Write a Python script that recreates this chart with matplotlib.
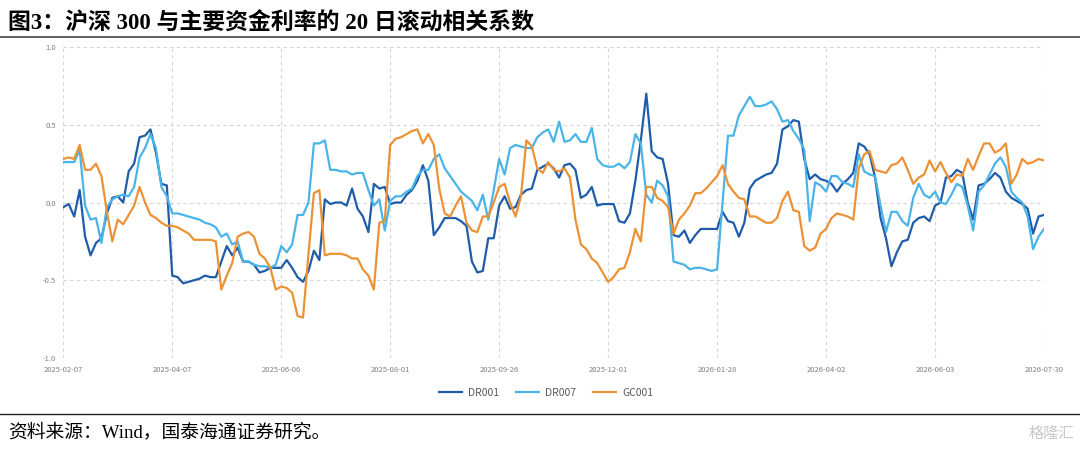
import numpy as np
import matplotlib.pyplot as plt
from matplotlib.lines import Line2D

plt.rcParams['font.family'] = ['Noto Sans CJK SC', 'DejaVu Sans']
plt.rcParams['axes.unicode_minus'] = False

# 交易日序号（每 2 个交易日取一个点），刻度每 40 个交易日
tick_labels = ['2025-02-07', '2025-04-07', '2025-06-06', '2025-08-01', '2025-09-26',
               '2025-12-01', '2026-01-28', '2026-04-02', '2026-06-03', '2026-07-30']
tick_pos = [0, 40, 80, 120, 160, 200, 240, 280, 320, 360]
days = np.arange(0, 361, 2)

dr001 = [-0.03, -0.01, -0.09, 0.08, -0.22, -0.34, -0.26, -0.23, -0.07, 0.03,
         0.04, 0.00, 0.20, 0.25, 0.42, 0.43, 0.47, 0.32, 0.12, 0.11,
         -0.47, -0.48, -0.52, -0.51, -0.50, -0.49, -0.47, -0.48, -0.48, -0.38,
         -0.28, -0.34, -0.29, -0.38, -0.38, -0.40, -0.45, -0.44, -0.42, -0.42,
         -0.42, -0.37, -0.42, -0.48, -0.51, -0.44, -0.31, -0.37, 0.02, -0.01,
         0.00, 0.00, -0.02, 0.09, -0.04, -0.09, -0.19, 0.12, 0.09, 0.10,
         -0.01, 0.00, 0.00, 0.05, 0.08, 0.14, 0.24, 0.14, -0.21, -0.16,
         -0.10, -0.10, -0.10, -0.12, -0.15, -0.38, -0.45, -0.44, -0.23, -0.23,
         -0.02, 0.04, -0.04, -0.03, 0.05, 0.08, 0.09, 0.21, 0.23, 0.25,
         0.22, 0.16, 0.24, 0.25, 0.21, 0.03, 0.05, 0.10, -0.02, -0.01,
         -0.01, -0.01, -0.12, -0.13, -0.07, 0.14, 0.40, 0.70, 0.33, 0.29,
         0.28, 0.12, -0.21, -0.22, -0.18, -0.26, -0.21, -0.17, -0.17, -0.17,
         -0.17, -0.06, -0.12, -0.13, -0.22, -0.13, 0.09, 0.14, 0.16, 0.18,
         0.19, 0.25, 0.47, 0.49, 0.53, 0.52, 0.28, 0.15, 0.18, 0.15,
         0.14, 0.12, 0.07, 0.12, 0.15, 0.19, 0.38, 0.36, 0.31, 0.16,
         -0.10, -0.23, -0.41, -0.32, -0.25, -0.24, -0.13, -0.10, -0.09, -0.12,
         -0.02, 0.00, 0.16, 0.17, 0.21, 0.19, 0.00, -0.11, 0.11, 0.12,
         0.15, 0.19, 0.16, 0.07, 0.03, 0.01, -0.01, -0.04, -0.20, -0.09, -0.08]

dr007 = [0.26, 0.26, 0.26, 0.34, -0.02, -0.11, -0.10, -0.26, -0.03, 0.02,
         0.04, 0.05, 0.04, 0.10, 0.29, 0.35, 0.44, 0.35, 0.10, 0.04,
         -0.07, -0.07, -0.08, -0.09, -0.10, -0.11, -0.13, -0.14, -0.16, -0.22,
         -0.20, -0.27, -0.25, -0.38, -0.38, -0.40, -0.41, -0.41, -0.42, -0.40,
         -0.28, -0.32, -0.27, -0.08, -0.08, 0.00, 0.38, 0.38, 0.40, 0.21,
         0.21, 0.20, 0.20, 0.18, 0.19, 0.19, 0.08, -0.02, 0.02, -0.18,
         0.01, 0.04, 0.04, 0.07, 0.09, 0.17, 0.21, 0.21, 0.28, 0.31,
         0.22, 0.17, 0.12, 0.07, 0.04, 0.01, -0.05, 0.05, -0.11, 0.08,
         0.28, 0.18, 0.35, 0.37, 0.36, 0.35, 0.35, 0.42, 0.45, 0.47,
         0.39, 0.52, 0.39, 0.40, 0.44, 0.39, 0.39, 0.48, 0.28, 0.24,
         0.23, 0.23, 0.25, 0.22, 0.26, 0.44, 0.38, 0.05, 0.00, 0.14,
         0.11, 0.04, -0.38, -0.39, -0.40, -0.43, -0.42, -0.42, -0.43, -0.44,
         -0.43, 0.00, 0.43, 0.43, 0.56, 0.62, 0.68, 0.62, 0.62, 0.63,
         0.65, 0.60, 0.52, 0.53, 0.46, 0.41, 0.34, -0.12, 0.13, 0.11,
         0.07, 0.17, 0.17, 0.13, 0.12, 0.10, 0.31, 0.20, 0.18, 0.17,
         -0.02, -0.19, -0.06, -0.06, -0.12, -0.15, 0.03, 0.12, 0.05, 0.03,
         0.07, 0.00, -0.01, 0.05, 0.12, 0.10, -0.02, -0.18, 0.07, 0.11,
         0.18, 0.25, 0.29, 0.23, 0.07, 0.03, 0.00, -0.09, -0.30, -0.22, -0.17]

gc001 = [0.28, 0.29, 0.28, 0.37, 0.21, 0.21, 0.25, 0.17, -0.06, -0.25,
         -0.11, -0.14, -0.08, -0.02, 0.10, 0.00, -0.08, -0.10, -0.13, -0.15,
         -0.15, -0.16, -0.18, -0.20, -0.24, -0.24, -0.24, -0.24, -0.25, -0.56,
         -0.47, -0.39, -0.22, -0.20, -0.19, -0.22, -0.33, -0.36, -0.42, -0.56,
         -0.54, -0.55, -0.58, -0.73, -0.74, -0.33, 0.06, 0.08, -0.34, -0.33,
         -0.33, -0.33, -0.34, -0.36, -0.36, -0.43, -0.47, -0.56, -0.13, -0.12,
         0.37, 0.41, 0.42, 0.44, 0.46, 0.47, 0.38, 0.44, 0.37, 0.09,
         -0.07, -0.09, -0.02, 0.04, -0.13, -0.18, -0.19, -0.09, -0.09, 0.00,
         0.10, 0.12, 0.00, -0.09, 0.04, 0.40, 0.36, 0.22, 0.19, 0.26,
         0.21, 0.20, 0.22, 0.16, -0.11, -0.27, -0.30, -0.36, -0.39, -0.45,
         -0.51, -0.48, -0.43, -0.42, -0.32, -0.17, -0.25, 0.10, 0.10, 0.03,
         0.01, -0.03, -0.20, -0.11, -0.07, -0.02, 0.06, 0.06, 0.09, 0.13,
         0.17, 0.24, 0.12, 0.07, 0.03, 0.02, -0.09, -0.09, -0.11, -0.13,
         -0.13, -0.10, 0.01, 0.07, -0.05, -0.06, -0.28, -0.31, -0.29, -0.20,
         -0.17, -0.10, -0.07, -0.08, -0.09, -0.11, 0.22, 0.31, 0.33, 0.21,
         0.20, 0.19, 0.24, 0.25, 0.29, 0.21, 0.12, 0.16, 0.18, 0.27,
         0.20, 0.26, 0.19, 0.13, 0.18, 0.17, 0.28, 0.21, 0.30, 0.38,
         0.38, 0.32, 0.34, 0.38, 0.12, 0.18, 0.28, 0.25, 0.26, 0.28, 0.27]

W, H = 1080, 449
fig = plt.figure(figsize=(W / 100, H / 100), dpi=100)
ax = fig.add_axes([63.3 / W, 1 - 358 / H, (1044 - 63.3) / W, (358 - 47) / H])

ax.plot(days, dr001, color='#1f5ca9', lw=1.6, label='DR001')
ax.plot(days, dr007, color='#4ab4e8', lw=1.6, label='DR007')
ax.plot(days, gc001, color='#ec9236', lw=1.6, label='GC001')

ax.set_xlim(0, 360)
ax.set_ylim(-1, 1)
ax.set_xticks(tick_pos)
ax.set_xticklabels(tick_labels)
ax.set_yticks([-1, -0.5, 0, 0.5, 1])
ax.set_yticklabels(['-1.0', '-0.5', '0.0', '0.5', '1.0'])
ax.tick_params(length=0, labelsize=5.5, labelcolor='#808080')
ax.tick_params(axis='y', pad=5)
ax.tick_params(axis='x', pad=6)
ax.grid(True, linestyle=(0, (3, 3)), color='#d4d4d4', lw=0.8)
for s in ax.spines.values():
    s.set_visible(False)

fig.legend(loc='center', bbox_to_anchor=(546 / W, 1 - 393 / H), ncol=3, frameon=False,
           fontsize=7.5, handlelength=2.2, handletextpad=0.6, columnspacing=1.6,
           labelcolor='#595959')

serif = ['Liberation Serif', 'Noto Sans CJK SC']
fig.text(8 / W, 1 - 30 / H, '图3：沪深 300 与主要资金利率的 20 日滚动相关系数',
         fontsize=16.5, fontweight='bold', family=serif, va='baseline')
fig.add_artist(Line2D([0, 1], [1 - 37 / H] * 2, color='#505050', lw=1.3))
fig.add_artist(Line2D([0, 1], [1 - 414 / H] * 2, color='#202020', lw=1.0))
fig.text(8 / W, 1 - 437 / H, '资料来源：Wind，国泰海通证券研究。',
         fontsize=13.5, family=serif, va='baseline')
fig.text(1074 / W, 1 - 438 / H, '格隆汇', fontsize=11, color='#c8c8c8',
         ha='right', va='baseline')

fig.savefig('out.png', dpi=100)
